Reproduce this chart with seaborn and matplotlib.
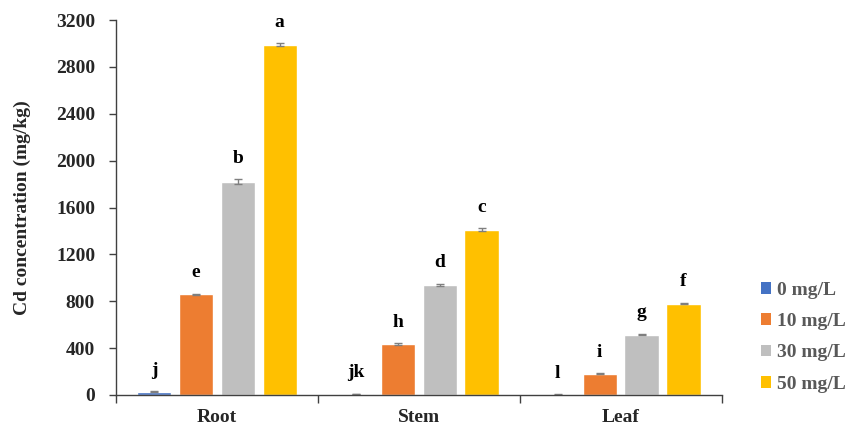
import matplotlib
matplotlib.use("Agg")
import matplotlib.pyplot as plt
from matplotlib.patches import Patch
import seaborn as sns
import pandas as pd

# Cd concentration by tissue and Cd treatment level
tissues = ["Root", "Stem", "Leaf"]
treatments = ["0 mg/L", "10 mg/L", "30 mg/L", "50 mg/L"]
cd_0 = [28, 8, 3]
cd_10 = [860, 435, 180]
cd_30 = [1820, 940, 515]
cd_50 = [2990, 1410, 780]
err_0 = [6, 3, 2]
err_10 = [6, 6, 5]
err_30 = [22, 8, 6]
err_50 = [14, 12, 6]
letters_0 = ["j", "jk", "l"]
letters_10 = ["e", "h", "i"]
letters_30 = ["b", "d", "g"]
letters_50 = ["a", "c", "f"]
colors = ["#4472C4", "#ED7D31", "#BFBFBF", "#FFC000"]
y_ticks = [0, 400, 800, 1200, 1600, 2000, 2400, 2800, 3200]

values = [cd_0, cd_10, cd_30, cd_50]
errors = [err_0, err_10, err_30, err_50]
letters = [letters_0, letters_10, letters_30, letters_50]

rows = []
for t, series in zip(treatments, values):
    for tissue, v in zip(tissues, series):
        rows.append({"tissue": tissue, "treatment": t, "cd": v})
df = pd.DataFrame(rows)

sns.set_theme(style="white")
plt.rcParams["font.family"] = ["Liberation Serif", "DejaVu Serif"]
plt.rcParams["font.weight"] = "bold"

fig = plt.figure(figsize=(8.46, 4.26), dpi=100)
ax = fig.add_axes([0.137, 0.0728, 0.716, 0.88])

sns.barplot(data=df, x="tissue", y="cd", hue="treatment", order=tissues,
            hue_order=treatments, palette=colors, width=0.83, gap=0.18,
            errorbar=None, saturation=1, legend=False, ax=ax)

for container, errs, labs in zip(ax.containers, errors, letters):
    for bar, e, lab in zip(container, errs, labs):
        cx = bar.get_x() + bar.get_width() / 2
        h = bar.get_height()
        ax.errorbar(cx, h, yerr=e, fmt="none", ecolor="#7F7F7F",
                    elinewidth=1, capsize=3, capthick=1)
        ax.annotate(lab, (cx, h + e), xytext=(0, 9), textcoords="offset points",
                    ha="center", va="bottom", fontsize=14, fontweight="bold",
                    color="black")

ax.set_ylim(0, 3200)
ax.set_xlim(-0.5, 2.5)
ax.set_yticks(y_ticks)
ax.set_yticklabels([str(v) for v in y_ticks], fontsize=14, fontweight="bold")
ax.set_xticks([0, 1, 2])
ax.set_xticklabels(tissues, fontsize=14, fontweight="bold")
ax.set_xticks([-0.5, 0.5, 1.5, 2.5], minor=True)
ax.tick_params(axis="x", which="major", length=0, pad=10)
ax.tick_params(axis="x", which="minor", length=6, width=1, color="#404040",
               direction="out", bottom=True)
ax.tick_params(axis="y", length=5, width=1, color="#404040", direction="out",
               left=True, pad=10)
ax.set_xlabel("")
ax.set_ylabel("Cd concentration (mg/kg)", fontsize=14, fontweight="bold",
              labelpad=18)

for side in ["top", "right"]:
    ax.spines[side].set_visible(False)
for side in ["left", "bottom"]:
    ax.spines[side].set_color("#404040")
    ax.spines[side].set_linewidth(1)

handles = [Patch(facecolor=c, edgecolor="none", label=t)
           for c, t in zip(colors, treatments)]
leg = fig.legend(handles=handles, loc="upper left",
                 bbox_to_anchor=(0.899, 0.338), frameon=False,
                 handlelength=0.55, handleheight=0.55, handletextpad=0.3,
                 labelspacing=0.73, prop={"size": 14, "weight": "bold"},
                 borderaxespad=0, borderpad=0)
for txt in leg.get_texts():
    txt.set_color("#595959")

fig.savefig("out.png", dpi=100)
